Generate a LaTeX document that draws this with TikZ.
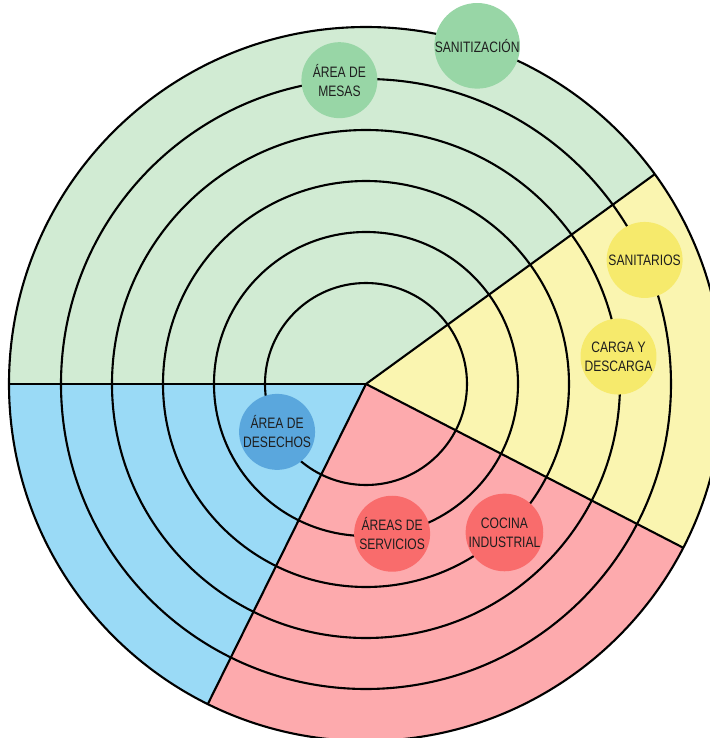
\documentclass[tikz,border=0pt]{standalone}
\usepackage{fontspec}
\setmainfont{Liberation Sans}[FakeStretch=0.8]
\usetikzlibrary{positioning}
\definecolor{zonegreen}{RGB}{209,235,211}
\definecolor{zoneyellow}{RGB}{250,245,176}
\definecolor{zonered}{RGB}{253,170,173}
\definecolor{zoneblue}{RGB}{154,218,246}
\definecolor{bubgreen}{RGB}{152,214,166}
\definecolor{bubyellow}{RGB}{246,234,108}
\definecolor{bubred}{RGB}{249,108,108}
\definecolor{bubblue}{RGB}{90,167,221}
\definecolor{labelgray}{RGB}{30,30,30}

\begin{document}
\begin{tikzpicture}[x=0.02cm, y=0.02cm,
    ring/.style={draw=black, line width=1.2pt},
    bubble/.style={circle, minimum size=1.52cm, inner sep=0pt, align=center,
                   font=\fontsize{8.6}{10.8}\selectfont, text=labelgray}
  ]
    \useasboundingbox (-366,-354) rectangle (344,384);
    \clip (-366,-354) rectangle (344,384);
    \fill[white] (-366,-354) rectangle (344,384);
    \coordinate (c) at (0,0);

    % zones
    \foreach \a/\b/\col in {36/180/zonegreen, 180/243.7/zoneblue,
                            243.7/332.7/zonered, -27.3/36/zoneyellow}{
      \fill[\col] (c) -- (\a:357) arc[start angle=\a, end angle=\b, radius=357] -- cycle;
    }

    % rings
    \foreach \r in {101,152,203,254,305,357}
      \draw[ring] (c) circle (\r);

    % zone borders
    \foreach \a in {36,180,243.7,332.7}
      \draw[ring] (c) -- (\a:357);

    % areas
    \node[bubble, fill=bubgreen]  (sanitizacion) at (71.8:356) {SANITIZACIÓN};
    \node[bubble, fill=bubgreen]  (mesas)        at (95:305)   {ÁREA DE\\MESAS};
    \node[bubble, fill=bubyellow] (sanitarios)   at (24:305)   {SANITARIOS};
    \node[bubble, fill=bubyellow] (carga)        at (6.2:254)  {CARGA Y\\DESCARGA};
    \node[bubble, fill=bubred]    (cocina)       at (-47:203)  {COCINA\\INDUSTRIAL};
    \node[bubble, fill=bubred]    (servicios)    at (-80.1:152){ÁREAS DE\\SERVICIOS};
    \node[bubble, fill=bubblue]   (desechos)     at (208.3:101){ÁREA DE\\DESECHOS};
\end{tikzpicture}
\end{document}
